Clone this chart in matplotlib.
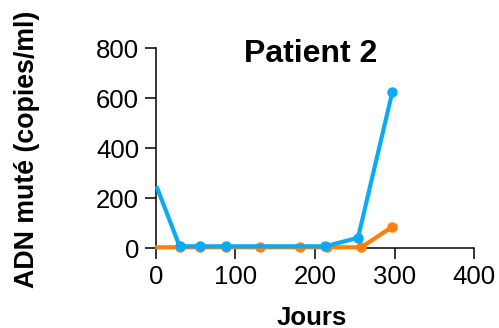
import matplotlib
matplotlib.use("Agg")
import matplotlib.pyplot as plt

plt.rcParams['font.family'] = ['Liberation Sans', 'DejaVu Sans']

# Mutated DNA (copies/ml) over time for patient 2
days_blue = [2, 30, 56, 88, 213, 254, 297]
copies_blue = [240, 8, 8, 8, 8, 42, 624]
days_orange = [2, 30, 56, 88, 131, 181, 215, 258, 297]
copies_orange = [4, 4, 4, 4, 4, 4, 4, 4, 86]

x_ticks = [0, 100, 200, 300, 400]
y_ticks = [0, 200, 400, 600, 800]

blue = '#0AAAF5'
orange = '#FF7F0A'

fig = plt.figure(figsize=(4.99, 3.28), dpi=100)
ax = fig.add_axes([0.312, 0.243, 0.6385, 0.6098])

ax.plot(days_orange, copies_orange, color=orange, lw=3, marker='o', ms=6.5,
        markevery=list(range(1, len(days_orange))), clip_on=False, zorder=3)
ax.plot(days_blue, copies_blue, color=blue, lw=3, marker='o', ms=6.5,
        markevery=list(range(1, len(days_blue))), clip_on=False, zorder=4)

ax.set_xlim(0, 400)
ax.set_ylim(0, 800)
ax.set_xticks(x_ticks)
ax.set_yticks(y_ticks)
ax.tick_params(axis='both', labelsize=18.5, length=8, width=1.1, direction='out', pad=4)
for s in ['top', 'right']:
    ax.spines[s].set_visible(False)
for s in ['left', 'bottom']:
    ax.spines[s].set_linewidth(1.1)

fig.text(0.623, 0.811, 'Patient 2', ha='center', va='baseline', fontsize=23, fontweight='bold')
fig.text(0.054, 0.544, 'ADN muté (copies/ml)', ha='center', va='center', rotation=90,
         fontsize=19.3, fontweight='bold')
fig.text(0.625, 0.032, 'Jours', ha='center', va='center', fontsize=18.5, fontweight='bold')

fig.savefig('out.png', dpi=100)
